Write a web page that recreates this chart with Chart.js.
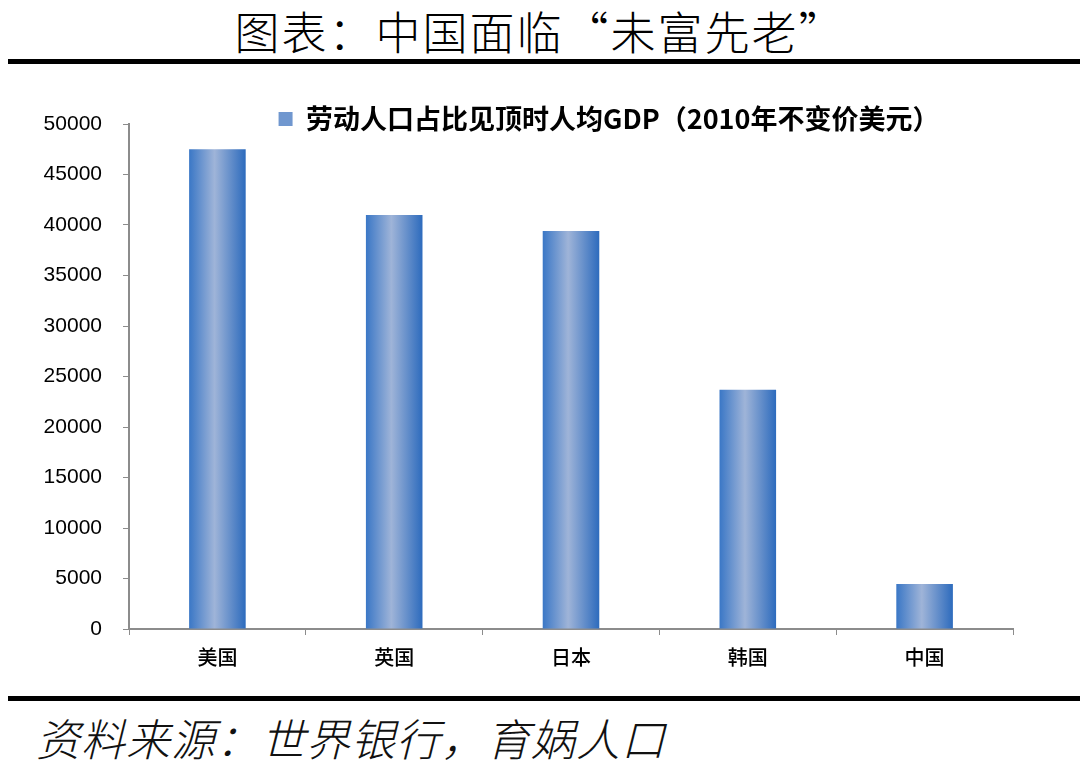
<!DOCTYPE html>
<html>
<head>
<meta charset="utf-8">
<script src="https://cdn.jsdelivr.net/npm/chart.js@4/dist/chart.umd.min.js"></script>
<style>
    body { margin: 0; background: #fff; }
    .page { position: relative; width: 1080px; height: 764px; overflow: hidden; }
    .title {
        position: absolute; left: 0; top: 3px; width: 1080px; text-align: center;
        font: 300 45px "Noto Sans CJK SC", sans-serif; color: #000; line-height: 56px;
        letter-spacing: 2px;
    }
    .rule { position: absolute; left: 8px; width: 1072px; height: 5px; background: #000; }
    .source {
        position: absolute; left: 36px; top: 709px;
        font: italic 300 44px "Noto Sans CJK SC", sans-serif; color: #111; line-height: 56px;
        letter-spacing: 1px;
    }
    .chart-box { position: absolute; left: 0; top: 0; width: 1080px; height: 690px; }
</style>
</head>
<body>
<div class="page">
    <div class="title">图表：中国面临“未富先老”</div>
    <div class="rule" style="top:59px"></div>
    <div class="chart-box"><canvas id="chart"></canvas></div>
    <div class="rule" style="top:696px"></div>
    <div class="source">资料来源：世界银行，育娲人口</div>
</div>
<script>
const countries = ['美国', '英国', '日本', '韩国', '中国'];
const gdpPerCapita = [47500, 41000, 39400, 23700, 4450];
const seriesName = '劳动人口占比见顶时人均GDP（2010年不变价美元）';

const axisGray = '#8c8c8c';
const barShare = 0.32;

// horizontal gradient across each bar, like the office chart fill
function barFill(context) {
    const chart = context.chart;
    const xs = chart.scales.x;
    if (!xs || context.dataIndex === undefined) return '#6f97d0';
    const cx = xs.getPixelForValue(context.dataIndex);
    const half = xs.width / countries.length * barShare / 2;
    const g = chart.ctx.createLinearGradient(cx - half, 0, cx + half, 0);
    g.addColorStop(0, '#3a77c6');
    g.addColorStop(0.45, '#9fb4d8');
    g.addColorStop(1, '#2d6bbd');
    return g;
}

// legend sits at the top edge of the plot, a bit right of centre
const legendPlace = {
    id: 'legendPlace',
    afterLayout(chart) {
        const lg = chart.legend;
        const h = lg.bottom - lg.top;
        const dy = (chart.chartArea.top - 2 - h / 2) - lg.top;
        const dx = 609 - (lg.left + lg.right) / 2;
        lg.top += dy; lg.bottom += dy;
        lg.left += dx; lg.right += dx;
    }
};

new Chart(document.getElementById('chart'), {
    type: 'bar',
    data: {
        labels: countries,
        datasets: [{
            label: seriesName,
            data: gdpPerCapita,
            backgroundColor: barFill,
            borderWidth: 0,
            categoryPercentage: 1,
            barPercentage: barShare
        }]
    },
    options: {
        responsive: true,
        maintainAspectRatio: false,
        animation: false,
        layout: { padding: { top: 83, right: 67, bottom: 0, left: 0 } },
        plugins: {
            legend: {
                position: 'top',
                labels: {
                    boxWidth: 14,
                    boxHeight: 14,
                    padding: 4,
                    color: '#000',
                    generateLabels(chart) {
                        return [{
                            text: seriesName,
                            fillStyle: '#7097cf',
                            strokeStyle: '#7097cf',
                            lineWidth: 0,
                            datasetIndex: 0,
                            hidden: false
                        }];
                    },
                    font: { family: '"Noto Sans CJK SC", serif', size: 27, weight: 'bold' }
                }
            },
            tooltip: { enabled: false }
        },
        scales: {
            x: {
                grid: { display: true, drawOnChartArea: false, color: axisGray, tickLength: 6, offset: true },
                border: { color: axisGray, width: 2 },
                ticks: {
                    color: '#000',
                    padding: 10,
                    font: { family: '"Noto Sans CJK SC", sans-serif', size: 20, weight: '500' }
                },
                afterFit(scale) { scale.height = 61; }
            },
            y: {
                min: 0,
                max: 50000,
                grid: { drawOnChartArea: false, color: axisGray, tickLength: 6 },
                border: { color: axisGray, width: 2 },
                ticks: {
                    stepSize: 5000,
                    color: '#000',
                    padding: 21,
                    font: { family: '"Liberation Sans", sans-serif', size: 21 },
                    callback: v => String(v)
                },
                afterFit(scale) { scale.width = 129; }
            }
        }
    },
    plugins: [legendPlace]
});
</script>
</body>
</html>
